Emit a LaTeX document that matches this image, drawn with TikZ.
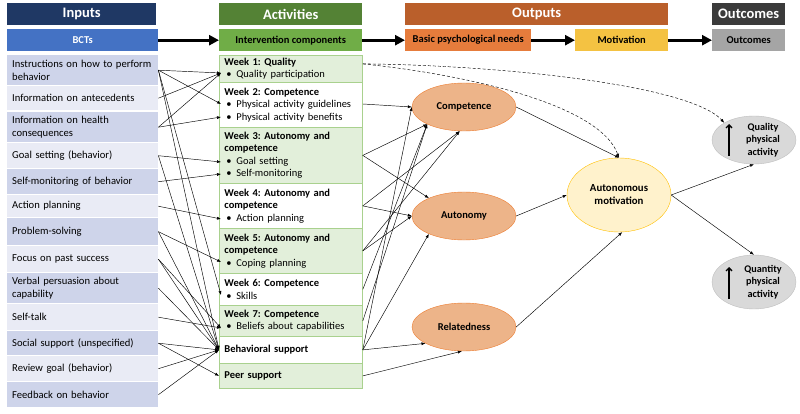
\documentclass[tikz,border=0pt]{standalone}
\usepackage{fontspec}
\setmainfont{Carlito}
\usepackage{xcolor}
\usepackage{tikz}
\usetikzlibrary{arrows.meta,shapes.geometric}

\definecolor{navy}{HTML}{1F3864}
\definecolor{bctblue}{HTML}{4472C4}
\definecolor{actgreen}{HTML}{548235}
\definecolor{intgreen}{HTML}{70AD47}
\definecolor{outbrown}{HTML}{BA5F2B}
\definecolor{needorange}{HTML}{E67C3C}
\definecolor{motyellow}{HTML}{F4C242}
\definecolor{outcdark}{HTML}{3B3B3B}
\definecolor{outcgray}{HTML}{A5A5A5}
\definecolor{indark}{HTML}{CED4EA}
\definecolor{inlight}{HTML}{E9EBF5}
\definecolor{actfill}{HTML}{E2EFDA}
\definecolor{actline}{HTML}{A9D18E}
\definecolor{needfill}{HTML}{EDB489}
\definecolor{needline}{HTML}{ED7D31}
\definecolor{amfill}{HTML}{FFF2CC}
\definecolor{amline}{HTML}{FFC000}
\definecolor{outfill}{HTML}{D9D9D9}
\definecolor{outline}{HTML}{BFBFBF}

\newcommand{\itm}{\hspace*{2pt}\makebox[10pt][l]{\textbullet}}
\frenchspacing

\begin{document}
\begin{tikzpicture}[x=1pt, y=-1pt,
  font=\fontsize{10.5}{12.5}\selectfont,
  head/.style={anchor=north west, minimum height=22pt, inner sep=0pt, text=white, font=\fontsize{14.5}{16}\selectfont\bfseries},
  sub/.style={anchor=north west, minimum height=22pt, inner sep=0pt, font=\fontsize{10.5}{12}\selectfont\bfseries},
  inbox/.style={anchor=north west, text width=141pt, inner sep=0pt, inner xsep=5pt, align=left, font=\fontsize{10.6}{13}\selectfont},
  actbox/.style={anchor=north west, draw=actline, line width=0.8pt, text width=133pt, inner sep=0pt, inner xsep=5pt, align=left},
  need/.style={ellipse, draw=needline, fill=needfill, minimum width=104pt, minimum height=48pt, inner sep=0pt, font=\fontsize{10.5}{12}\selectfont\bfseries},
  outc/.style={ellipse, draw=outline, fill=outfill, minimum width=84pt, minimum height=48pt, inner sep=0pt},
  fat/.style={-{Triangle[length=10pt,width=10pt]}, line width=3pt},
  conn/.style={-{Latex[length=4pt,width=3pt]}, line width=0.45pt},
  dconn/.style={conn, densely dashed},
  uparr/.style={-{Straight Barb[length=3pt,width=6pt]}, line width=1.3pt}]

\fill[white] (0,0) rectangle (800,414);
\useasboundingbox (0,0) rectangle (800,414);

%draw headers
\node[head, fill=navy, minimum width=149pt] (inputs) at (7,3) {Inputs};
\node[sub, fill=bctblue, minimum width=151pt, text=white] (bcts) at (7,29) {BCTs};
\node[head, fill=actgreen, minimum width=143pt] (activities) at (219,3) {Activities};
\node[sub, fill=intgreen, minimum width=143pt] (intv) at (219,29) {Intervention components};
\node[head, fill=outbrown, minimum width=263pt] (outputs) at (405,3) {Outputs};
\node[sub, fill=needorange, minimum width=126pt] (needs) at (405,29) {Basic psychological needs};
\node[sub, fill=motyellow, minimum width=93pt] (motiv) at (575,29) {Motivation};
\node[head, fill=outcdark, minimum width=73pt] (outcomes) at (712,3) {Outcomes};
\node[sub, fill=outcgray, minimum width=73pt] (outc) at (712,29) {Outcomes};

%draw thick arrows
\draw[fat] (bcts) -- (intv);
\draw[fat] (intv) -- (needs);
\draw[fat] (needs) -- (motiv);
\draw[fat] (motiv) -- (outc);

%draw input boxes
\node[inbox, fill=indark, minimum height=30pt] (instr) at (7,55) {Instructions on how to perform\\behavior};
\node[inbox, fill=inlight, minimum height=24pt] (antec) at (7,86) {Information on antecedents};
\node[inbox, fill=indark, minimum height=30pt] (health) at (7,112) {Information on health\\consequences};
\node[inbox, fill=inlight, minimum height=25pt] (goal) at (7,143) {Goal setting (behavior)};
\node[inbox, fill=indark, minimum height=25pt] (selfmon) at (7,169) {Self-monitoring of behavior};
\node[inbox, fill=inlight, minimum height=22pt] (actplan) at (7,195) {Action planning};
\node[inbox, fill=indark, minimum height=27pt] (probsolv) at (7,218) {Problem-solving};
\node[inbox, fill=inlight, minimum height=26pt] (pastsucc) at (7,246) {Focus on past success};
\node[inbox, fill=indark, minimum height=30pt] (verbal) at (7,273) {Verbal persuasion about\\capability};
\node[inbox, fill=inlight, minimum height=26pt] (selftalk) at (7,304) {Self-talk};
\node[inbox, fill=indark, minimum height=24pt] (social) at (7,331) {Social support (unspecified)};
\node[inbox, fill=inlight, minimum height=25pt] (review) at (7,356) {Review goal (behavior)};
\node[inbox, fill=indark, minimum height=25pt] (feedback) at (7,382) {Feedback on behavior};

%draw activity boxes
\node[actbox, fill=actfill, minimum height=27pt] (w1) at (219,55) {\textbf{Week 1: Quality}\\\itm Quality participation};
\node[actbox, fill=white, minimum height=45pt] (w2) at (219,82) {\textbf{Week 2: Competence}\\\itm Physical activity guidelines\\\itm Physical activity benefits};
\node[actbox, fill=actfill, minimum height=56pt] (w3) at (219,127) {\textbf{Week 3: Autonomy and}\\\textbf{competence}\\\itm Goal setting\\\itm Self-monitoring};
\node[actbox, fill=white, minimum height=45pt] (w4) at (219,183) {\textbf{Week 4: Autonomy and}\\\textbf{competence}\\\itm Action planning};
\node[actbox, fill=actfill, minimum height=45pt] (w5) at (219,228) {\textbf{Week 5: Autonomy and}\\\textbf{competence}\\\itm Coping planning};
\node[actbox, fill=white, minimum height=32pt] (w6) at (219,273) {\textbf{Week 6: Competence}\\\itm Skills};
\node[actbox, fill=actfill, minimum height=31pt] (w7) at (219,305) {\textbf{Week 7: Competence}\\\itm Beliefs about capabilities};
\node[actbox, fill=white, minimum height=27pt] (behav) at (219,336) {\textbf{Behavioral support}};
\node[actbox, fill=actfill, minimum height=25pt] (peer) at (219,363) {\textbf{Peer support}};

%bullet points
\coordinate (qpart) at (221,73);
\coordinate (guide) at (221,104);
\coordinate (benef) at (221,117);
\coordinate (gset) at (221,162);
\coordinate (smon) at (221,174);
\coordinate (aplan) at (221,219);
\coordinate (coping) at (221,262);
\coordinate (skills) at (221,295);
\coordinate (beliefs) at (221,328);

%draw inputs to activities
\foreach \a/\b in {instr/qpart, instr/guide, instr/skills, instr/behav.west, antec/qpart,
  health/qpart, health/benef, goal/gset, goal/behav.west, selfmon/smon, actplan/aplan,
  probsolv/coping, probsolv/behav.west, pastsucc/beliefs, pastsucc/behav.west, verbal/behav.west,
  selftalk/beliefs, social/behav.west, social/peer.west, review/behav.west, feedback/behav.west}
  \draw[conn] (\a.east) -- (\b);

%draw ellipses
\node[need] (comp) at (464,107) {Competence};
\node[need] (aut) at (464,216) {Autonomy};
\node[need] (rel) at (464,327) {Relatedness};
\node[ellipse, draw=amline, fill=amfill, minimum width=104pt, minimum height=74pt, inner sep=0pt, align=center, font=\fontsize{10.8}{13}\selectfont\bfseries] (am) at (619,195) {Autonomous\\motivation};
\node[outc] (qual) at (754,140) {};
\node[align=center, font=\fontsize{10.2}{12.5}\selectfont\bfseries] (qualtxt) at (763,140) {Quality\\physical\\activity};
\node[outc, minimum height=54pt] (quant) at (754,282) {};
\node[align=center, font=\fontsize{10.2}{12.5}\selectfont\bfseries] (quanttxt) at (763,282) {Quantity\\physical\\activity};
\draw[uparr] ([xshift=-25pt,yshift=-16pt]qual.center) -- ([xshift=-25pt,yshift=16pt]qual.center);
\draw[uparr] ([xshift=-25pt,yshift=-17pt]quant.center) -- ([xshift=-25pt,yshift=15pt]quant.center);

%draw activities to needs
\draw[conn] (w2.east |- guide) -- (comp.west);
\foreach \a/\b in {w3/comp.205, w3/aut.153, w4/comp.260, w4/aut.west, w5/comp.260, w5/aut.west,
  w6/comp.205, w7/comp.205, behav/comp.west, behav/aut.207, behav/rel.203, peer/rel.265}
  \draw[conn] (\a.east) -- (\b);

%draw needs to motivation to outcomes
\draw[conn] (comp.east) -- (am.north);
\draw[conn] (aut.east) -- (am.west);
\draw[conn] (rel.east) -- (am.275);
\draw[conn] (am.east) -- (qual.south);
\draw[conn] (am.east) -- (quant.north);

%dashed links from week 1
\coordinate (w1out) at ([yshift=5pt]w1.east);
\draw[dconn] (w1out) .. controls (470,75) and (600,105) .. (am.north);
\draw[dconn] (w1out) .. controls (500,65) and (690,85) .. (qual.150);
\end{tikzpicture}
\end{document}
